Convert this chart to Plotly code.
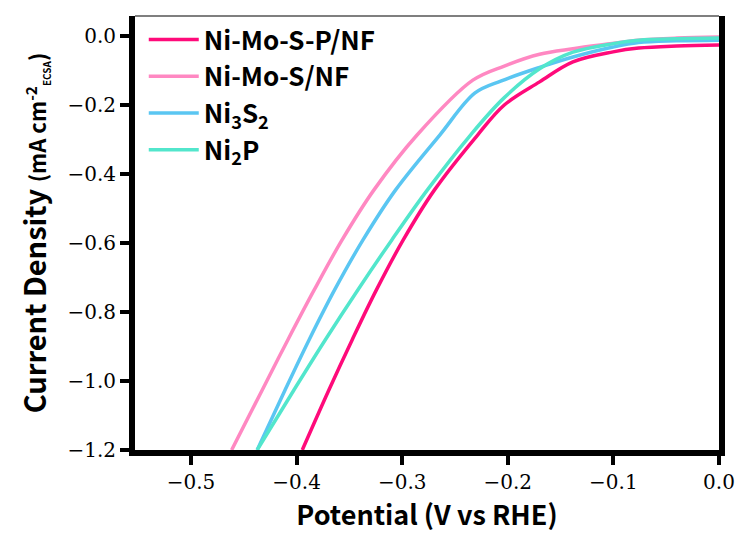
import plotly.graph_objects as go

# Polarisation data (potential in V vs RHE, current density in mA cm^-2 ECSA)
pot_nimosp = [-0.3946, -0.3694, -0.3474, -0.3244, -0.2990, -0.2694, -0.2286, -0.2033, -0.1699, -0.1383, -0.1003, -0.0761, -0.040, 0.0]
cur_nimosp = [-1.2, -1.026, -0.881, -0.736, -0.591, -0.446, -0.287, -0.200, -0.133, -0.075, -0.046, -0.035, -0.029, -0.026]

pot_nimos = [-0.4615, -0.4325, -0.4083, -0.3833, -0.3569, -0.3267, -0.2859, -0.2331, -0.2033, -0.1699, -0.1383, -0.1012, -0.0761, -0.040, 0.0]
cur_nimos = [-1.2, -1.026, -0.881, -0.736, -0.591, -0.446, -0.287, -0.128, -0.087, -0.053, -0.037, -0.022, -0.012, -0.006, -0.003]

pot_ni3s2 = [-0.4373, -0.4109, -0.3882, -0.3640, -0.3371, -0.3062, -0.2644, -0.2310, -0.2061, -0.1699, -0.1383, -0.1003, -0.0761, -0.040, 0.0]
cur_ni3s2 = [-1.2, -1.026, -0.881, -0.736, -0.591, -0.446, -0.287, -0.165, -0.130, -0.091, -0.061, -0.032, -0.019, -0.014, -0.012]

pot_ni2p = [-0.4373, -0.4025, -0.3729, -0.3420, -0.3098, -0.2761, -0.2353, -0.2038, -0.1699, -0.1383, -0.1003, -0.0761, -0.040, 0.0]
cur_ni2p = [-1.2, -1.026, -0.881, -0.736, -0.591, -0.446, -0.287, -0.180, -0.095, -0.047, -0.022, -0.012, -0.008, -0.006]

series_names = ["Ni-Mo-S-P/NF", "Ni-Mo-S/NF", "Ni<sub>3</sub>S<sub>2</sub>", "Ni<sub>2</sub>P"]
series_colors = ["#ff0a7a", "#ff88c2", "#5ac6f2", "#52e6cc"]

x_tickvals = [-0.5, -0.4, -0.3, -0.2, -0.1, 0.0]
x_ticktext = ["\u22120.5", "\u22120.4", "\u22120.3", "\u22120.2", "\u22120.1", "0.0"]
y_tickvals = [0.0, -0.2, -0.4, -0.6, -0.8, -1.0, -1.2]
y_ticktext = ["0.0", "\u22120.2", "\u22120.4", "\u22120.6", "\u22120.8", "\u22121.0", "\u22121.2"]

fig = go.Figure()
data = [(pot_nimosp, cur_nimosp), (pot_nimos, cur_nimos), (pot_ni3s2, cur_ni3s2), (pot_ni2p, cur_ni2p)]
for (xs, ys), name, color in zip(data, series_names, series_colors):
    fig.add_trace(go.Scatter(
        x=xs, y=ys, mode="lines", name=name,
        line=dict(color=color, width=3.5, shape="spline", smoothing=1.0),
    ))

title_family = "Noto Sans CJK SC"
tick_family = "DejaVu Serif"
axis_black = "rgb(0,0,0)"

fig.update_layout(
    width=747, height=536,
    margin=dict(l=135, r=18, t=16, b=86),
    paper_bgcolor="white", plot_bgcolor="white",
    showlegend=True,
    legend=dict(
        x=0.015, y=1.0, xanchor="left", yanchor="top",
        bgcolor="rgba(0,0,0,0)",
        font=dict(family=title_family, size=26, color="black", weight="bold"),
        itemwidth=50,
        tracegroupgap=0,
    ),
    xaxis=dict(
        range=[-0.553, 0.0],
        tickmode="array", tickvals=x_tickvals, ticktext=x_ticktext,
        tickfont=dict(family=tick_family, size=20, color=axis_black),
        ticks="outside", ticklen=9, tickwidth=4, tickcolor=axis_black,
        showline=True, linecolor=axis_black, linewidth=6,
        showgrid=False, zeroline=False,
        title=dict(text="Potential (V vs RHE)",
                   font=dict(family=title_family, size=27, color="black", weight="bold"),
                   standoff=10),
    ),
    yaxis=dict(
        range=[-1.2, 0.058],
        tickmode="array", tickvals=y_tickvals, ticktext=y_ticktext,
        tickfont=dict(family=tick_family, size=20, color=axis_black),
        ticks="outside", ticklen=9, tickwidth=4, tickcolor=axis_black,
        showline=True, linecolor=axis_black, linewidth=6, mirror=True,
        showgrid=False, zeroline=False,
        title=dict(text="Current Density <span style='font-size:22px'>(mA cm<sup>-2</sup><sub><span style='font-size:10px'>ECSA</span></sub>)</span>",
                   font=dict(family=title_family, size=29, color="black", weight="bold"),
                   standoff=14),
    ),
    shapes=[dict(
        type="line", xref="paper", yref="paper", x0=0, x1=1, y0=1, y1=1,
        line=dict(color="#555555", width=1.5),
    )],
)

fig.write_html("out.html")
